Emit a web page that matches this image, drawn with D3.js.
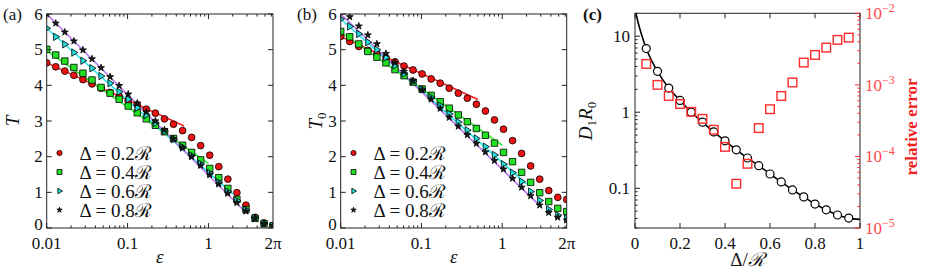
<!DOCTYPE html>
<html><head><meta charset="utf-8">
<script src="https://cdn.jsdelivr.net/npm/d3@7"></script>
<style>
body{margin:0;background:#fff}
svg{display:block}
</style>
</head><body>
<svg id="chart" width="926" height="273"></svg>
<script>
// ---------------- DATA ----------------
// epsilon sample points (log-spaced from 0.01 to 2*pi)
const eps = [0.01,0.01294,0.01675,0.02168,0.02806,0.03631,0.04699,0.06081,0.0787,0.1018,0.1318,0.1706,0.2207,0.2857,0.3697,0.4785,0.6192,0.8014,1.037,1.342,1.737,2.248,2.909,3.765,4.872,6.283];
const seriesNames = ["Δ = 0.2ℛ","Δ = 0.4ℛ","Δ = 0.6ℛ","Δ = 0.8ℛ"];
// panel (a): T
const aRed   = [4.63,4.52,4.40,4.28,4.16,4.04,3.92,3.80,3.69,3.57,3.45,3.33,3.22,3.06,2.91,2.73,2.54,2.31,2.04,1.72,1.37,0.99,0.64,0.30,0.14,0.07];
const aGreen = [5.01,4.85,4.68,4.50,4.34,4.15,3.94,3.78,3.61,3.42,3.23,3.06,2.88,2.70,2.51,2.32,2.12,1.91,1.67,1.41,1.11,0.80,0.52,0.27,0.12,0.06];
const aCyan  = [5.60,5.36,5.15,4.92,4.69,4.48,4.26,4.06,3.82,3.61,3.37,3.17,2.94,2.71,2.49,2.26,2.03,1.80,1.54,1.28,1.02,0.77,0.51,0.28,0.13,0.06];
const aStar  = [6.00,5.74,5.49,5.24,4.99,4.74,4.49,4.24,3.99,3.75,3.50,3.25,3.00,2.75,2.50,2.25,2.00,1.75,1.49,1.23,0.97,0.71,0.47,0.27,0.12,0.06];
// panel (b): T0
const bRed   = [5.37,5.23,5.09,4.98,4.88,4.77,4.66,4.54,4.43,4.32,4.18,4.06,3.92,3.78,3.64,3.47,3.28,3.03,2.77,2.45,2.09,1.74,1.37,1.05,0.86,0.80];
const bGreen = [5.51,5.36,5.16,4.95,4.79,4.63,4.44,4.27,4.09,3.90,3.72,3.54,3.36,3.17,2.98,2.79,2.60,2.38,2.12,1.86,1.56,1.28,0.99,0.74,0.55,0.46];
const bCyan  = [5.86,5.65,5.44,5.21,5.00,4.78,4.56,4.33,4.11,3.89,3.66,3.43,3.20,2.97,2.74,2.51,2.28,2.05,1.79,1.55,1.30,1.02,0.77,0.52,0.36,0.27];
const bStar  = [null,5.92,5.66,5.41,5.16,4.89,4.64,4.39,4.13,3.87,3.61,3.35,3.10,2.85,2.61,2.37,2.13,1.89,1.65,1.39,1.14,0.90,0.64,0.43,0.30,0.22];
// asymptotic straight lines (start at eps=0.01, end at given eps)
const aLineStart = [4.63,4.97,5.60,6.00];
const aLineEndEps = [0.5,1.0,2.0,2.8];
const aLineEndVal = [2.86,1.81,0.95,0.47];
const bLineStart = [5.37,5.49,5.86,6.00];
const bLineEndEps = [0.5,1.0,2.0,3.0];
const bLineEndVal = [3.60,2.32,1.23,0.60];
// x tick labels for (a),(b)
const xTickVals = [0.01,0.1,1,2*Math.PI];
const xTickText = ["0.01","0.1","1","2π"];
const yTickVals = [0,1,2,3,4,5,6];
// panel (c)
const delta = [0.05,0.1,0.15,0.2,0.25,0.3,0.35,0.4,0.45,0.5,0.55,0.6,0.65,0.7,0.75,0.8,0.85,0.9,0.95];
const D1R0 = [6.87,3.45,2.08,1.43,1.0,0.74,0.55,0.42,0.32,0.25,0.198,0.154,0.121,0.095,0.077,0.062,0.052,0.0445,0.0405];
const relErr = [1.96e-3,1.0e-3,7.0e-4,5.4e-4,4.2e-4,3.35e-4,2.36e-4,1.36e-4,4.15e-5,7.9e-5,2.49e-4,4.57e-4,7.0e-4,1.08e-3,2.05e-3,2.62e-3,3.32e-3,4.25e-3,4.57e-3];
const theoryX = [0.004,0.015,0.03,0.05,0.1,0.15,0.2,0.25,0.3,0.35,0.4,0.45,0.5,0.55,0.6,0.65,0.7,0.75,0.8,0.85,0.9,0.95,1.0];
const theoryY = [20,14.7,10.3,6.87,3.45,2.08,1.43,1.0,0.74,0.55,0.42,0.32,0.25,0.198,0.154,0.121,0.095,0.077,0.062,0.052,0.0445,0.0405,0.039];
const cXTicks = [0,0.2,0.4,0.6,0.8,1];
const cXTickText = ["0","0.2","0.4","0.6","0.8","1"];
const cLeftTicks = [0.1,1,10];
const cLeftTickText = ["0.1","1","10"];
const cRightTicks = [1e-5,1e-4,1e-3,1e-2];
const cRightExp = ["−5","−4","−3","−2"];

// ---------------- STYLE ----------------
const FONT = "Liberation Serif";
const TICK_FS = 17;
const XLAB_Y = 248.5;
const markerFill = ["#ee1111","#22e022","#22dddd","#1a1a1a"];
const lineColor = ["#ff2020","#33ee33","#22e8e8","#bb77ee"];
const markerType = ["circle","square","tri","star"];
const FRAME = "#222";

const svg = d3.select("#chart");
const defs = svg.append("defs");

function T(g) { return g.append("text").attr("font-family", FONT).attr("fill", "#111"); }

function markerPath(type, s) {
  if (type === "circle") return d3.symbol(d3.symbolCircle, Math.PI * s * s)();
  if (type === "square") return d3.symbol(d3.symbolSquare, 3.6 * s * s)();
  if (type === "star") return d3.symbol(d3.symbolStar, 1.3 * s * s)();
  const r = s * 1.15;
  return `M${r},0L${-r*0.55},${-r*0.95}L${-r*0.55},${r*0.95}Z`;
}

function drawMarker(g, type, x, y, s, fill) {
  g.append("path").attr("d", markerPath(type, s))
    .attr("transform", `translate(${x},${y})`)
    .attr("fill", fill).attr("stroke", "#000").attr("stroke-width", 0.8);
}

function isPow10(t) { const l = Math.log10(t); return Math.abs(l - Math.round(l)) < 1e-9; }

function panelAB(cfg) {
  const {x0, x1, y0, y1, series, lStart, lEndEps, lEndVal, id, ylab, panelLabel, labelX, legX, ylabX} = cfg;
  const xs = d3.scaleLog().domain([0.01, 2*Math.PI]).range([x0, x1]);
  const ys = d3.scaleLinear().domain([0, 6]).range([y1, y0]);
  const g = svg.append("g");
  defs.append("clipPath").attr("id", id).append("rect")
    .attr("x", x0).attr("y", y0).attr("width", x1 - x0).attr("height", y1 - y0);
  const plot = g.append("g").attr("clip-path", `url(#${id})`);
  for (let i = 0; i < 4; i++) {
    const pts = [[0.01, lStart[i]], [lEndEps[i], lEndVal[i]]];
    plot.append("path")
      .attr("d", d3.line().x(d => xs(d[0])).y(d => ys(d[1]))(pts))
      .attr("fill", "none").attr("stroke", lineColor[i]).attr("stroke-width", 1.6);
  }
  for (let i = 0; i < 4; i++) {
    series[i].forEach((v, k) => {
      if (v == null) return;
      drawMarker(plot, markerType[i], xs(eps[k]), ys(v), 3.4, markerFill[i]);
    });
  }
  g.append("rect").attr("x", x0).attr("y", y0).attr("width", x1 - x0).attr("height", y1 - y0)
    .attr("fill", "none").attr("stroke", FRAME).attr("stroke-width", 1);
  xs.ticks().forEach(t => {
    if (t > 2*Math.PI) return;
    const len = isPow10(t) ? 5 : 2.6;
    const X = xs(t);
    g.append("line").attr("x1", X).attr("x2", X).attr("y1", y1).attr("y2", y1 - len).attr("stroke", FRAME);
    g.append("line").attr("x1", X).attr("x2", X).attr("y1", y0).attr("y2", y0 + len).attr("stroke", FRAME);
  });
  xTickVals.forEach((t, i) => {
    T(g).attr("x", xs(t)).attr("y", XLAB_Y).attr("text-anchor", "middle")
      .attr("font-size", TICK_FS).text(xTickText[i]);
  });
  yTickVals.forEach(t => {
    const Y = ys(t);
    g.append("line").attr("x1", x0).attr("x2", x0 + 5).attr("y1", Y).attr("y2", Y).attr("stroke", FRAME);
    g.append("line").attr("x1", x1).attr("x2", x1 - 5).attr("y1", Y).attr("y2", Y).attr("stroke", FRAME);
    T(g).attr("x", x0 - 4).attr("y", Y + (t === 0 ? 1.5 : 5.8)).attr("text-anchor", "end")
      .attr("font-size", TICK_FS).text(t);
  });
  T(g).attr("x", (x0 + x1) / 2).attr("y", 263).attr("text-anchor", "middle")
    .attr("font-size", 19).attr("font-style", "italic").text("ε");
  const yl = T(g).attr("transform", `translate(${ylabX},121) rotate(-90)`)
    .attr("text-anchor", "middle").attr("font-size", 19).attr("font-style", "italic");
  yl.append("tspan").text("T");
  if (ylab === "T0") yl.append("tspan").attr("dy", 4).attr("font-size", 13).attr("font-style", "normal").text("0");
  T(g).attr("x", labelX).attr("y", 20).attr("font-size", 17).text(panelLabel);
  const rows = [153, 172, 191, 210];
  for (let i = 0; i < 4; i++) {
    drawMarker(g, markerType[i], legX, rows[i], 2.6, markerFill[i]);
    T(g).attr("x", legX + 20).attr("y", rows[i] + 6.5).attr("font-size", 19)
      .text(seriesNames[i]);
  }
}

panelAB({x0: 46.7, x1: 273, y0: 14, y1: 228, series: [aRed, aGreen, aCyan, aStar],
  lStart: aLineStart, lEndEps: aLineEndEps, lEndVal: aLineEndVal, id: "clipA",
  ylab: "T", panelLabel: "(a)", labelX: 3, legX: 59.5, ylabX: 19});
panelAB({x0: 340.7, x1: 566.7, y0: 14, y1: 228, series: [bRed, bGreen, bCyan, bStar],
  lStart: bLineStart, lEndEps: bLineEndEps, lEndVal: bLineEndVal, id: "clipB",
  ylab: "T0", panelLabel: "(b)", labelX: 297, legX: 353.5, ylabX: 322});

// ---------------- PANEL C ----------------
(function () {
  const x0 = 635, x1 = 860, y0 = 13.3, y1 = 228;
  const red = "#ff2a2a", redTxt = "#ff4a4a";
  const xs = d3.scaleLinear().domain([0, 1]).range([x0, x1]);
  const yl = d3.scaleLog().domain([0.03, 20]).range([y1, y0]);
  const yr = d3.scaleLog().domain([1e-5, 1e-2]).range([y1, y0]);
  const g = svg.append("g");
  defs.append("clipPath").attr("id", "clipC").append("rect")
    .attr("x", x0).attr("y", y0).attr("width", x1 - x0).attr("height", y1 - y0);
  const plot = g.append("g").attr("clip-path", "url(#clipC)");
  plot.append("path")
    .attr("d", d3.line().x((d, i) => xs(theoryX[i])).y(d => yl(d)).curve(d3.curveMonotoneX)(theoryY))
    .attr("fill", "none").attr("stroke", "#000").attr("stroke-width", 1.6);
  plot.selectAll("circle.c").data(D1R0).join("circle")
    .attr("cx", (d, i) => xs(delta[i])).attr("cy", d => yl(d)).attr("r", 4)
    .attr("fill", "#fff").attr("stroke", "#000").attr("stroke-width", 1.2);
  plot.selectAll("rect.e").data(relErr).join("rect")
    .attr("x", (d, i) => xs(delta[i]) - 4.3).attr("y", d => yr(d) - 4.3)
    .attr("width", 8.6).attr("height", 8.6)
    .attr("fill", "none").attr("stroke", red).attr("stroke-width", 1.4);
  g.append("rect").attr("x", x0).attr("y", y0).attr("width", x1 - x0).attr("height", y1 - y0)
    .attr("fill", "none").attr("stroke", FRAME).attr("stroke-width", 1);
  cXTicks.forEach((t, i) => {
    const X = xs(t);
    g.append("line").attr("x1", X).attr("x2", X).attr("y1", y1).attr("y2", y1 - 5).attr("stroke", FRAME);
    g.append("line").attr("x1", X).attr("x2", X).attr("y1", y0).attr("y2", y0 + 5).attr("stroke", FRAME);
    T(g).attr("x", X).attr("y", XLAB_Y).attr("text-anchor", "middle")
      .attr("font-size", TICK_FS).text(cXTickText[i]);
  });
  yl.ticks().forEach(t => {
    const len = isPow10(t) ? 5 : 2.6;
    g.append("line").attr("x1", x0).attr("x2", x0 + len).attr("y1", yl(t)).attr("y2", yl(t)).attr("stroke", FRAME);
  });
  cLeftTicks.forEach((t, i) => {
    T(g).attr("x", x0 - 5).attr("y", yl(t) + 5.8).attr("text-anchor", "end")
      .attr("font-size", TICK_FS).text(cLeftTickText[i]);
  });
  yr.ticks().forEach(t => {
    const len = isPow10(t) ? 5 : 2.6;
    g.append("line").attr("x1", x1).attr("x2", x1 - len).attr("y1", yr(t)).attr("y2", yr(t)).attr("stroke", red);
  });
  cRightTicks.forEach((t, i) => {
    const tx = T(g).attr("x", x1 + 5).attr("y", yr(t) + 6).attr("font-size", TICK_FS).attr("fill", redTxt);
    tx.append("tspan").text("10");
    tx.append("tspan").attr("dy", -7).attr("font-size", 12).text(cRightExp[i]);
  });
  const xl = T(g).attr("x", (x0 + x1) / 2).attr("y", 266).attr("text-anchor", "middle").attr("font-size", 19);
  xl.append("tspan").text("Δ/");
  xl.append("tspan").attr("font-style", "italic").text("ℛ");
  const ylab = T(g).attr("transform", `translate(592,121) rotate(-90)`)
    .attr("text-anchor", "middle").attr("font-size", 19).attr("font-style", "italic");
  ylab.append("tspan").text("D");
  ylab.append("tspan").attr("dy", 4).attr("font-size", 13).attr("font-style", "normal").text("1");
  ylab.append("tspan").attr("dy", -4).text("R");
  ylab.append("tspan").attr("dy", 4).attr("font-size", 13).attr("font-style", "normal").text("0");
  T(g).attr("transform", `translate(917,127) rotate(-90)`)
    .attr("text-anchor", "middle").attr("font-size", 17).attr("font-weight", "bold")
    .attr("fill", "#ee2020").text("relative error");
  T(g).attr("x", 583).attr("y", 20).attr("font-size", 17).attr("font-weight", "bold").text("(c)");
})();
</script>
</body></html>
